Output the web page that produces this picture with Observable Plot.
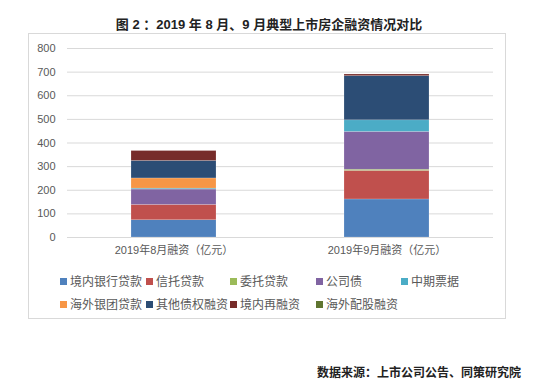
<!DOCTYPE html>
<html>
<head>
<meta charset="utf-8">
<script src="https://cdn.jsdelivr.net/npm/d3@7"></script>
<script src="https://cdn.jsdelivr.net/npm/@observablehq/plot@0.6"></script>
<style>
  html, body { margin: 0; padding: 0; background: #fff; }
  body { width: 550px; height: 389px; position: relative; overflow: hidden;
         font-family: "Liberation Sans", "Noto Sans CJK SC", sans-serif; }
  #title { position: absolute; left: 0; width: 538px; top: 14px; text-align: center;
           font-size: 13px; font-weight: bold; color: #222; }
  #box { position: absolute; left: 28px; top: 33px; width: 478px; height: 286px;
         border: 1px solid #d9d9d9; box-sizing: border-box; }
  #chart { position: absolute; left: 0; top: 33px; }
  .lg { position: absolute; font-size: 12px; color: #595959; white-space: nowrap; line-height: 14px; }
  .lg span.sw { display: inline-block; width: 7px; height: 7px; margin-right: 3px; vertical-align: 1px; }
  #caption { position: absolute; right: 29px; top: 363px; font-size: 12px; font-weight: bold; color: #222; }
</style>
</head>
<body>
<div id="title">图 2 ：2019 年 8 月、9 月典型上市房企融资情况对比</div>
<div id="box"></div>
<div id="chart"></div>
<div id="legend"></div>
<div id="caption">数据来源：上市公司公告、同策研究院</div>
<script>
const periods = ["2019年8月融资（亿元）", "2019年9月融资（亿元）"];
const categories = ["境内银行贷款", "信托贷款", "委托贷款", "公司债", "中期票据",
                    "海外银团贷款", "其他债权融资", "境内再融资", "海外配股融资"];
const colors = ["#4F81BD", "#C0504D", "#9BBB59", "#8064A2", "#4BACC6",
                "#F79646", "#2C4D75", "#772C2A", "#5F7530"];
const augValues = [73, 65, 0, 65, 4, 43, 74, 42, 0];
const sepValues = [161, 121, 5, 160, 49, 0, 187, 7, 0];
const yTicks = [0, 100, 200, 300, 400, 500, 600, 700, 800];

const data = [];
categories.forEach((c, i) => {
  data.push({period: periods[0], category: c, value: augValues[i]});
  data.push({period: periods[1], category: c, value: sepValues[i]});
});

const chart = Plot.plot({
  width: 550,
  height: 230,
  marginLeft: 67,
  marginRight: 57,
  marginTop: 15,
  marginBottom: 26,
  style: {fontFamily: '"Liberation Sans", "Noto Sans CJK SC", sans-serif', fontSize: "11px", color: "#595959"},
  x: {domain: periods, paddingInner: 0.6, paddingOuter: 0.3, label: null},
  y: {domain: [0, 800], ticks: yTicks, label: null},
  color: {domain: categories, range: colors},
  marks: [
    Plot.gridY(yTicks, {stroke: "#d9d9d9", strokeOpacity: 1, strokeWidth: 1}),
    Plot.axisY(yTicks, {tickSize: 0, tickPadding: 12, fontSize: 11, fill: "#595959", label: null}),
    Plot.axisX({tickSize: 0, tickPadding: 9, fontSize: 11, fill: "#595959", label: null}),
    Plot.barY(data, {x: "period", y: "value", fill: "category", order: categories,
                     stroke: "#ffffff", strokeOpacity: 0.35, strokeWidth: 0.5})
  ]
});
document.getElementById("chart").appendChild(chart);

// legend
const legendX = [60, 146, 230, 316, 401];
const legendY = [275, 298];
const legend = document.getElementById("legend");
categories.forEach((c, i) => {
  const d = document.createElement("div");
  d.className = "lg";
  d.style.left = legendX[i % 5] + "px";
  d.style.top = legendY[Math.floor(i / 5)] + "px";
  const sw = document.createElement("span");
  sw.className = "sw";
  sw.style.background = colors[i];
  d.appendChild(sw);
  d.appendChild(document.createTextNode(c));
  legend.appendChild(d);
});
</script>
</body>
</html>
